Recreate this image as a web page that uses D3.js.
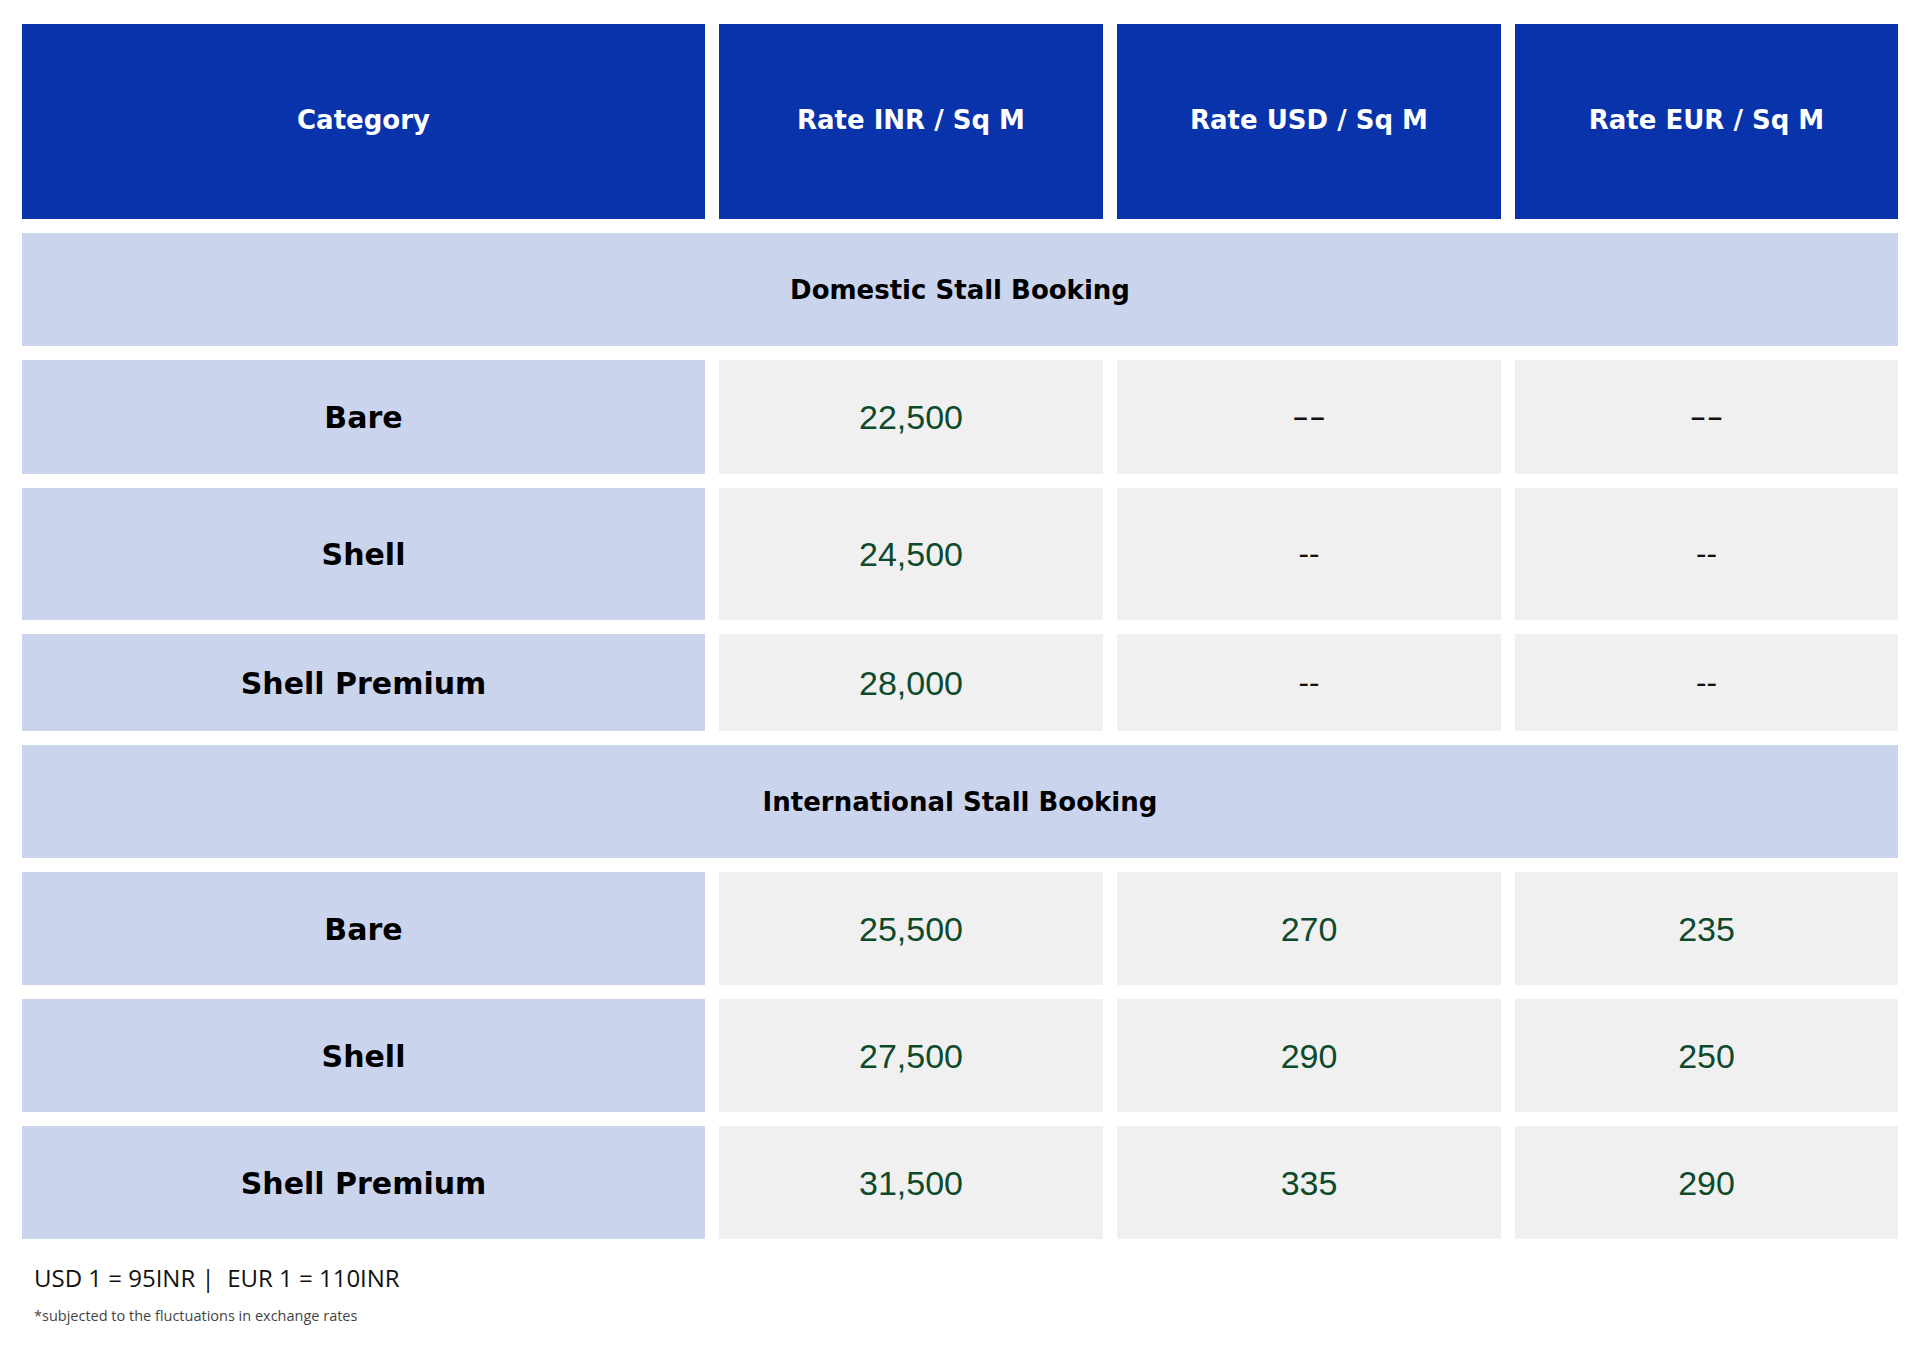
<!DOCTYPE html>
<html>
<head>
<meta charset="utf-8">
<script src="https://cdn.jsdelivr.net/npm/d3@7"></script>
<style>
  html, body { margin: 0; padding: 0; background: #ffffff; }
  svg { display: block; }
</style>
</head>
<body>
<div id="chart"></div>
<script>
// ---------------- DATA ----------------
const columns = ["Category", "Rate INR / Sq M", "Rate USD / Sq M", "Rate EUR / Sq M"];
const sections = ["Domestic Stall Booking", "International Stall Booking"];
const categories = ["Bare", "Shell", "Shell Premium"];
const domesticINR = [22500, 24500, 28000];
const domesticUSD = [null, null, null];
const domesticEUR = [null, null, null];
const internationalINR = [25500, 27500, 31500];
const internationalUSD = [270, 290, 335];
const internationalEUR = [235, 250, 290];
const exchangeNote = "USD 1 = 95INR |  EUR 1 = 110INR";
const footnote = "*subjected to the fluctuations in exchange rates";

// ---------------- LAYOUT ----------------
const W = 1920, H = 1357;
const tableLeft = 22, tableTop = 24, gap = 14;
const colWidths = [683, 384, 384, 383];
const rowHeights = [195, 113, 114, 132, 97, 113, 113, 113, 113];

const colX = colWidths.map((w, i) => tableLeft + d3.sum(colWidths.slice(0, i)) + i * gap);
const rowY = rowHeights.map((h, i) => tableTop + d3.sum(rowHeights.slice(0, i)) + i * gap);
const tableRight = colX[3] + colWidths[3];

const C = {
  header: "#0833ab",
  light: "#cad4ec",
  gray: "#f0f0f0",
  value: "#0d4a2c",
  black: "#000000"
};
const boldFont = "'DejaVu Sans', 'Open Sans', sans-serif";
const valueFont = "'Liberation Sans', Arial, sans-serif";
const noteFont = "'Open Sans', 'Noto Sans', sans-serif";
const fmt = d3.format(",");

// Build row model from arrays
const rows = [];
rows.push({ type: "header", cells: columns });
const groups = [
  { title: sections[0], inr: domesticINR, usd: domesticUSD, eur: domesticEUR, wideDash: true },
  { title: sections[1], inr: internationalINR, usd: internationalUSD, eur: internationalEUR, wideDash: false }
];
groups.forEach(g => {
  rows.push({ type: "section", cells: [g.title] });
  categories.forEach((c, i) => {
    rows.push({ type: "data", wide: g.wideDash && i === 0, cells: [c, g.inr[i], g.usd[i], g.eur[i]] });
  });
});
rows.forEach((r, i) => { r.y = rowY[i]; r.h = rowHeights[i]; });

const svg = d3.select("#chart").append("svg")
  .attr("width", W).attr("height", H)
  .attr("viewBox", `0 0 ${W} ${H}`);

svg.append("rect").attr("width", W).attr("height", H).attr("fill", "#fff");

const rowG = svg.selectAll("g.row").data(rows).join("g").attr("class", "row");

rowG.each(function (r) {
  const g = d3.select(this);
  if (r.type === "section") {
    g.append("rect")
      .attr("x", tableLeft).attr("y", r.y)
      .attr("width", tableRight - tableLeft).attr("height", r.h)
      .attr("fill", C.light);
    g.append("text")
      .attr("x", (tableLeft + tableRight) / 2).attr("y", r.y + r.h / 2 + 9)
      .attr("text-anchor", "middle")
      .attr("font-family", boldFont).attr("font-weight", 700)
      .attr("font-size", 26).attr("fill", C.black)
      .text(r.cells[0]);
    return;
  }
  r.cells.forEach((v, ci) => {
    let fill, color, font, weight, size, label, dy;
    if (r.type === "header") {
      fill = C.header; color = "#ffffff"; font = boldFont; weight = 700; size = 26; label = v; dy = 7;
    } else if (ci === 0) {
      fill = C.light; color = C.black; font = boldFont; weight = 700; size = 30; label = v; dy = 11;
    } else {
      fill = C.gray;
      font = valueFont; weight = 400;
      if (v == null) { color = "#111111"; size = 30; label = "--"; dy = 10; }
      else { color = C.value; size = 34; label = fmt(v); dy = 12; }
    }
    g.append("rect")
      .attr("x", colX[ci]).attr("y", r.y)
      .attr("width", colWidths[ci]).attr("height", r.h)
      .attr("fill", fill);
    const t = g.append("text")
      .attr("x", colX[ci] + colWidths[ci] / 2).attr("y", r.y + r.h / 2 + dy)
      .attr("text-anchor", "middle")
      .attr("font-family", font).attr("font-weight", weight)
      .attr("font-size", size).attr("fill", color)
      .text(label);
    if (v == null && ci > 0 && r.type === "data") {
      if (r.wide) t.attr("textLength", 34).attr("lengthAdjust", "spacingAndGlyphs").attr("font-size", 32);
      else t.attr("textLength", 21).attr("lengthAdjust", "spacingAndGlyphs");
    }
  });
});

// Footnotes
const tableBottom = rowY[rowY.length - 1] + rowHeights[rowHeights.length - 1];
svg.append("text")
  .attr("x", 34).attr("y", tableBottom + 48)
  .attr("font-family", noteFont)
  .attr("font-size", 24).attr("fill", "#111111")
  .style("white-space", "pre")
  .text(exchangeNote);
svg.append("text")
  .attr("x", 34).attr("y", tableBottom + 82)
  .attr("font-family", noteFont)
  .attr("font-size", 14.5).attr("fill", "#444444")
  .text(footnote);
</script>
</body>
</html>
